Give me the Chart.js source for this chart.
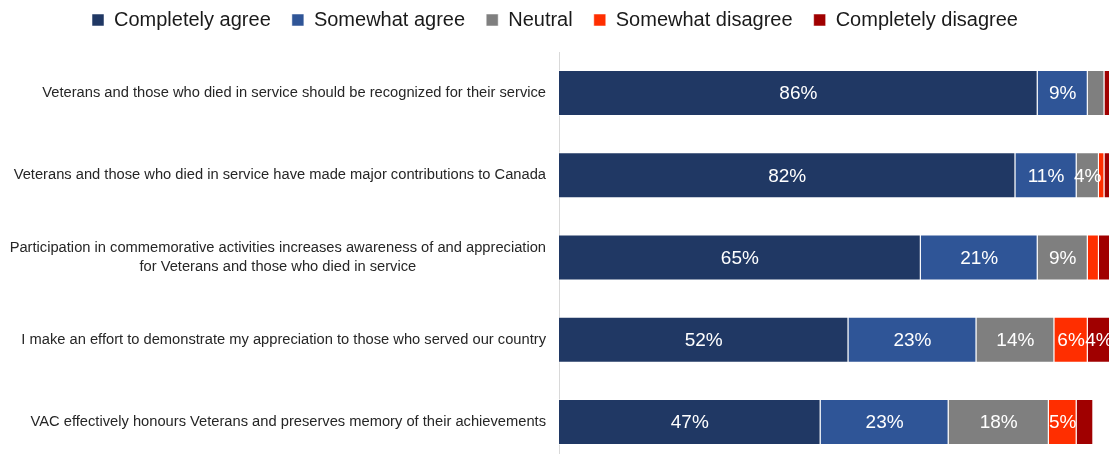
<!DOCTYPE html>
<html>
<head>
<meta charset="utf-8">
<script src="https://cdn.jsdelivr.net/npm/chart.js@4"></script>
<style>
  html, body { margin: 0; padding: 0; background: #fff; overflow: hidden; }
  #wrap { width: 1110px; height: 463px; position: relative; }
</style>
</head>
<body>
<div id="wrap"><canvas id="chart"></canvas></div>
<script>
const categories = [
  ["Veterans and those who died in service should be recognized for their service"],
  ["Veterans and those who died in service have made major contributions to Canada"],
  ["Participation in commemorative activities increases awareness of and appreciation", "for Veterans and those who died in service"],
  ["I make an effort to demonstrate my appreciation to those who served our country"],
  ["VAC effectively honours Veterans and preserves memory of their achievements"]
];
const seriesNames = ["Completely agree", "Somewhat agree", "Neutral", "Somewhat disagree", "Completely disagree"];
const completelyAgree = [86, 82, 65, 52, 47];
const somewhatAgree = [9, 11, 21, 23, 23];
const neutral = [3, 4, 9, 14, 18];
const somewhatDisagree = [0, 1, 2, 6, 5];
const completelyDisagree = [1, 1, 2, 4, 3];
const colors = ["#203864", "#2f5597", "#7f7f7f", "#ff2e00", "#a00000"];

const seriesValues = [completelyAgree, somewhatAgree, neutral, somewhatDisagree, completelyDisagree];
const FONT = "'Liberation Sans', Arial, sans-serif";

// white % labels inside segments, only where there is room
const barLabels = {
  id: "barLabels",
  afterDatasetsDraw(chart) {
    const ctx = chart.ctx;
    ctx.save();
    ctx.fillStyle = "#ffffff";
    ctx.font = "19px " + FONT;
    ctx.textAlign = "center";
    ctx.textBaseline = "middle";
    chart.data.datasets.forEach((ds, di) => {
      chart.getDatasetMeta(di).data.forEach((bar, i) => {
        const v = ds.data[i];
        if (v < 4) return;
        ctx.fillText(v + "%", (bar.x + bar.base) / 2, bar.y + 1);
      });
    });
    ctx.restore();
  }
};

// category labels: right aligned block, lines centred inside it
const catLabels = {
  id: "catLabels",
  afterDraw(chart) {
    const ctx = chart.ctx;
    const y = chart.scales.y;
    ctx.save();
    ctx.fillStyle = "#262626";
    ctx.font = "14.7px " + FONT;
    ctx.textBaseline = "middle";
    ctx.textAlign = "center";
    const right = chart.chartArea.left - 13;
    categories.forEach((lines, i) => {
      const cy = y.getPixelForTick(i);
      const w = Math.max(...lines.map(l => ctx.measureText(l).width));
      const cx = right - w / 2;
      const lh = 19;
      lines.forEach((l, k) => {
        ctx.fillText(l, cx, cy + (k - (lines.length - 1) / 2) * lh);
      });
    });
    ctx.restore();
  }
};

new Chart(document.getElementById("chart"), {
  type: "bar",
  data: {
    labels: categories.map(c => c.join(" ")),
    datasets: seriesNames.map((name, i) => ({
      label: name,
      data: seriesValues[i],
      backgroundColor: colors[i],
      borderColor: "rgba(255,255,255,0.5)",
      borderWidth: 1,
      barPercentage: 0.56,
      categoryPercentage: 1
    }))
  },
  options: {
    indexAxis: "y",
    responsive: true,
    maintainAspectRatio: false,
    animation: false,
    layout: { padding: 0 },
    plugins: {
      legend: {
        position: "top",
        labels: {
          boxWidth: 12,
          boxHeight: 12,
          color: "#1a1a1a",
          padding: 10,
          font: { size: 20, family: FONT },
          generateLabels(chart) {
            const items = Chart.defaults.plugins.legend.labels.generateLabels(chart);
            items.forEach((it, i) => {
              if (i < items.length - 1) it.text = it.text + "  ";
            });
            return items;
          }
        }
      },
      tooltip: { enabled: false }
    },
    scales: {
      x: {
        stacked: true,
        position: "top",
        min: 0,
        max: 99,
        grid: { display: false },
        border: { display: false },
        ticks: { display: false },
        afterFit(scale) { scale.height = 12; }
      },
      y: {
        stacked: true,
        grid: { display: false },
        border: { display: true, color: "#d9d9d9", width: 1 },
        ticks: { display: false },
        afterFit(scale) { scale.width = 559; }
      }
    }
  },
  plugins: [barLabels, catLabels]
});
</script>
</body>
</html>
